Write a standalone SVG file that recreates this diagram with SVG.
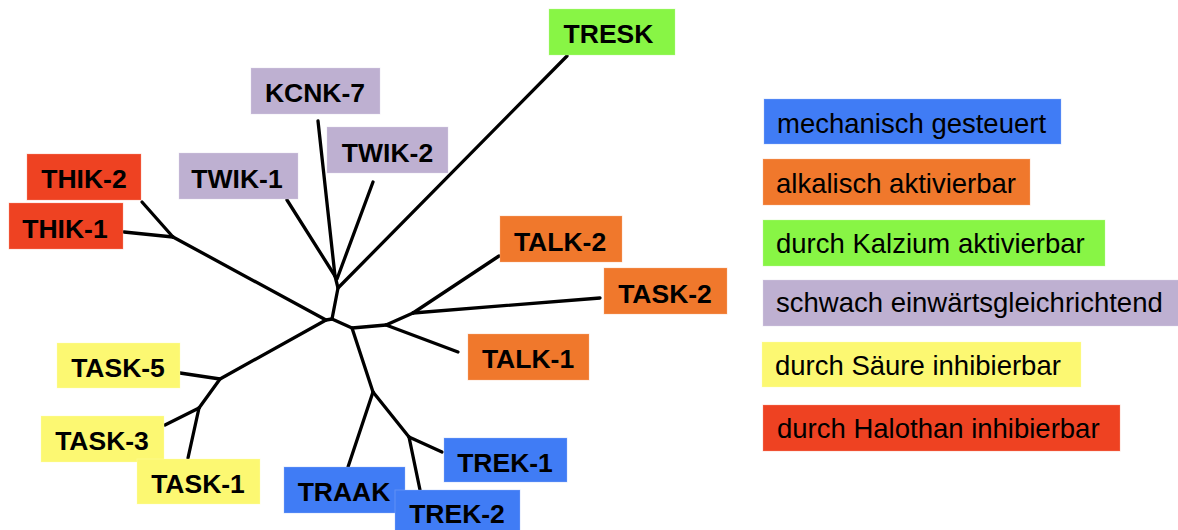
<svg xmlns="http://www.w3.org/2000/svg" width="1178" height="530" viewBox="0 0 1178 530">
<style>
.bg{fill:#ffffff}
.edge{fill:none;stroke:#000;stroke-width:3.3;stroke-linejoin:round;stroke-linecap:round}
.box{stroke-width:1;stroke-opacity:0.35}
.lbl{font-family:"Liberation Sans",Arial,sans-serif;font-weight:bold;font-size:26.5px;fill:#000;text-anchor:middle}
.leg{font-family:"Liberation Sans",Arial,sans-serif;font-size:27.5px;fill:#000}
.blue{fill:#407cf5;stroke:#9ab8fa}
.orange{fill:#f0782c;stroke:#f7b38a}
.green{fill:#88f545;stroke:#c0f99a}
.lav{fill:#beb0d1;stroke:#ddd4e6}
.yellow{fill:#fcf872;stroke:#fdfbb4}
.red{fill:#ee4222;stroke:#f59a88}
</style>
<rect class="bg" x="0" y="0" width="1178" height="530"/>
<g id="connectors">
<path class="edge" d="M567,56 L338,288"/>
<path class="edge" d="M318,121 L335,276"/>
<path class="edge" d="M287,200 L335,276"/>
<path class="edge" d="M373,182 L337,279"/>
<path class="edge" d="M335,276 L338,288 L332,319"/>
<path class="edge" d="M142,202 L173,237"/>
<path class="edge" d="M124,232 L173,237"/>
<path class="edge" d="M173,237 L326,320 L332,319"/>
<path class="edge" d="M326,320 L220,379"/>
<path class="edge" d="M180,373 L220,379 L199,408"/>
<path class="edge" d="M165,425 L199,408"/>
<path class="edge" d="M188,458 L199,408"/>
<path class="edge" d="M332,319 L352,328 L386,325 L413,313"/>
<path class="edge" d="M413,313 L499,256"/>
<path class="edge" d="M413,313 L600,298"/>
<path class="edge" d="M386,325 L458,352"/>
<path class="edge" d="M352,328 L373,392"/>
<path class="edge" d="M373,392 L348,467"/>
<path class="edge" d="M373,392 L409,437"/>
<path class="edge" d="M409,437 L442,452"/>
<path class="edge" d="M409,437 L420,490"/>
</g>
<g id="node-TRESK"><rect class="box green" x="549" y="9" width="126" height="46"/><text class="lbl" x="608.5" y="43">TRESK</text></g>
<g id="node-KCNK-7"><rect class="box lav" x="251" y="68" width="129" height="46"/><text class="lbl" x="315" y="102">KCNK-7</text></g>
<g id="node-TWIK-2"><rect class="box lav" x="327" y="127" width="121" height="46"/><text class="lbl" x="387.5" y="162">TWIK-2</text></g>
<g id="node-TWIK-1"><rect class="box lav" x="179" y="153" width="119" height="46"/><text class="lbl" x="237" y="188">TWIK-1</text></g>
<g id="node-THIK-2"><rect class="box red" x="27" y="154" width="114" height="46"/><text class="lbl" x="84" y="188">THIK-2</text></g>
<g id="node-THIK-1"><rect class="box red" x="9" y="203" width="114" height="46"/><text class="lbl" x="65" y="238">THIK-1</text></g>
<g id="node-TALK-2"><rect class="box orange" x="500" y="216" width="122" height="46"/><text class="lbl" x="560" y="251">TALK-2</text></g>
<g id="node-TASK-2"><rect class="box orange" x="604" y="268" width="123" height="46"/><text class="lbl" x="665" y="303">TASK-2</text></g>
<g id="node-TALK-1"><rect class="box orange" x="468" y="334" width="121" height="46"/><text class="lbl" x="528" y="368">TALK-1</text></g>
<g id="node-TASK-5"><rect class="box yellow" x="57" y="343" width="123" height="45"/><text class="lbl" x="118" y="377">TASK-5</text></g>
<g id="node-TASK-3"><rect class="box yellow" x="41" y="416" width="123" height="46"/><text class="lbl" x="102" y="450">TASK-3</text></g>
<g id="node-TASK-1"><rect class="box yellow" x="137" y="459" width="123" height="45"/><text class="lbl" x="198" y="493">TASK-1</text></g>
<g id="node-TREK-1"><rect class="box blue" x="444" y="438" width="123" height="44"/><text class="lbl" x="505" y="472">TREK-1</text></g>
<g id="node-TRAAK"><rect class="box blue" x="284" y="467" width="121" height="46"/><text class="lbl" x="344" y="501">TRAAK</text></g>
<g id="node-TREK-2"><rect class="box blue" x="395" y="490" width="125" height="46"/><text class="lbl" x="457" y="523">TREK-2</text></g>
<g id="legend">
<g id="legend-mech"><rect class="box blue" x="764" y="99" width="297" height="45"/><text class="leg" x="777" y="133">mechanisch gesteuert</text></g>
<g id="legend-alk"><rect class="box orange" x="763" y="159" width="267" height="46"/><text class="leg" x="776" y="193">alkalisch aktivierbar</text></g>
<g id="legend-ca"><rect class="box green" x="763" y="220" width="342" height="46"/><text class="leg" x="776" y="253">durch Kalzium aktivierbar</text></g>
<g id="legend-weak"><rect class="box lav" x="763" y="280" width="416" height="46"/><text class="leg" x="776" y="312">schwach einwärtsgleichrichtend</text></g>
<g id="legend-acid"><rect class="box yellow" x="762" y="342" width="319" height="45"/><text class="leg" x="775" y="375">durch Säure inhibierbar</text></g>
<g id="legend-halo"><rect class="box red" x="763" y="405" width="357" height="46"/><text class="leg" x="777" y="438">durch Halothan inhibierbar</text></g>
</g>
</svg>
